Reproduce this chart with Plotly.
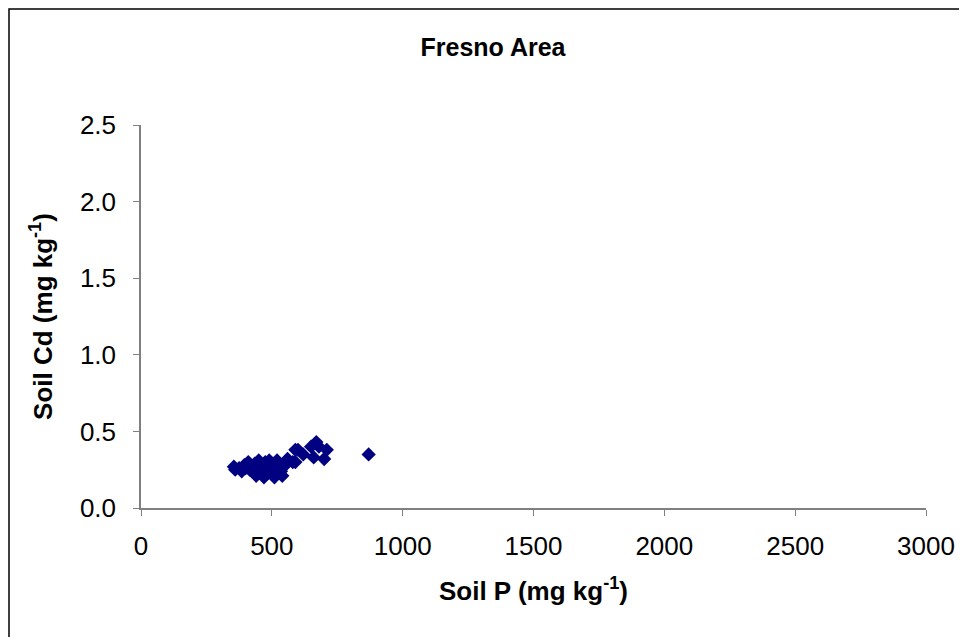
import plotly.graph_objects as go

soil_p = [355, 360, 375, 385, 395, 400, 410, 415, 420, 430, 435, 440, 445, 450, 455,
          460, 465, 470, 475, 480, 485, 490, 495, 500, 505, 510, 515, 520, 525, 530,
          535, 540, 545, 550, 560, 580, 590, 590, 600, 620, 650, 660, 670, 680, 700,
          710, 870]
soil_cd = [0.27, 0.25, 0.26, 0.24, 0.28, 0.26, 0.30, 0.25, 0.27, 0.24, 0.29, 0.21, 0.26,
           0.31, 0.23, 0.28, 0.25, 0.20, 0.30, 0.27, 0.23, 0.31, 0.26, 0.22, 0.29, 0.20,
           0.26, 0.31, 0.23, 0.28, 0.24, 0.21, 0.27, 0.28, 0.32, 0.30, 0.30, 0.38, 0.38,
           0.35, 0.40, 0.33, 0.43, 0.40, 0.32, 0.38, 0.35]

x_ticks = [0, 500, 1000, 1500, 2000, 2500, 3000]
y_ticks = [0.0, 0.5, 1.0, 1.5, 2.0, 2.5]

W, H = 959, 629
L, R, T, B = 133, 41, 117, 129
PW, PH = W - L - R, H - T - B

fig = go.Figure()
fig.add_trace(go.Scatter(
    x=soil_p, y=soil_cd, mode="markers",
    marker=dict(symbol="diamond", size=11, color="#000080",
                line=dict(width=0)),
    showlegend=False,
))

font_family = "Liberation Sans, Arial, sans-serif"
fig.update_layout(
    width=W, height=H,
    margin=dict(l=L, r=R, t=T, b=B),
    paper_bgcolor="white", plot_bgcolor="white",
    font=dict(family=font_family, color="black"),
    title=dict(text="<b>Fresno Area</b>", x=485 / W, xanchor="center",
               y=1 - 39 / H, yanchor="middle", font=dict(size=25)),
    xaxis=dict(range=[0, 3000], tickvals=x_ticks,
               ticktext=[str(v) for v in x_ticks],
               showgrid=False, zeroline=False, showline=True,
               linecolor="#808080", linewidth=1.5,
               ticks="outside", ticklen=6, tickcolor="#808080",
               tickfont=dict(size=26), fixedrange=True,
               ticklabelstandoff=8,
               title=dict(text="<b>Soil P (mg kg<sup>-1</sup>)</b>",
                          font=dict(size=26), standoff=22)),
    yaxis=dict(range=[0, 2.5], tickvals=y_ticks,
               ticktext=[f"{v:.1f}" for v in y_ticks],
               showgrid=False, zeroline=False, showline=True,
               linecolor="#808080", linewidth=1.5,
               ticks="outside", ticklen=6, tickcolor="#808080",
               tickfont=dict(size=26), fixedrange=True,
               ticklabelstandoff=12,
               title=dict(text="<b>Soil Cd (mg kg<sup>-1</sup>)</b>",
                          font=dict(size=26), standoff=20)),
)

fig.add_shape(type="rect", xref="paper", yref="paper",
              x0=(-L + 1) / PW, x1=(W - L + 20) / PW,
              y0=-(B + 20) / PH, y1=1 + (T - 1) / PH,
              line=dict(color="black", width=1.5), layer="below")

fig.write_html("out.html")
